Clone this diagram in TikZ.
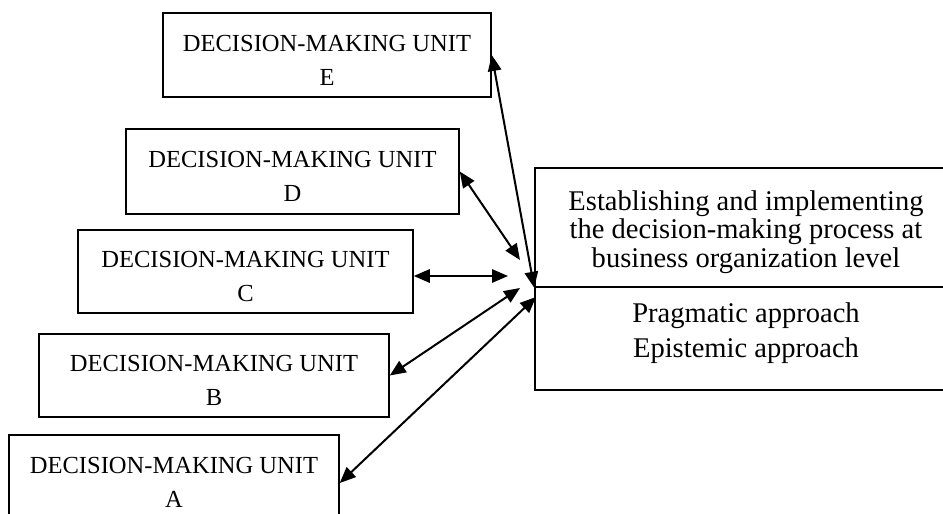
\documentclass[tikz,border=0pt]{standalone}
\usepackage{fontspec}
\setmainfont{Liberation Serif}
\usetikzlibrary{arrows.meta}
\newcommand*{\unitfont}{\fontsize{18.4}{25.5}\selectfont}
\newcommand*{\procfont}{\fontsize{21.4}{21.4}\selectfont}
\newcommand*{\apprfont}{\fontsize{21.4}{26.2}\selectfont}
\newcommand*{\unitlabel}[1]{\rule{0pt}{20.2pt}DECISION-MAKING UNIT\\#1}
\tikzset{
  unitbox/.style={draw=black, line width=1.15pt, align=center, inner sep=0pt, font=\unitfont},
  procbox/.style={draw=black, line width=1.15pt, align=center, inner sep=0pt, minimum width=316.5pt},
  link/.style={line width=1.5pt, {Triangle[length=12pt,width=10pt]}-{Triangle[length=12pt,width=10pt]}}
}
\begin{document}
\begin{tikzpicture}[x=0.75pt, y=-0.75pt]
    \useasboundingbox (0,0) rectangle (943,514);
    % decision-making units
    \node [unitbox, minimum width=246pt, minimum height=63pt] (E) at (327,55) {\unitlabel{E}};
    \node [unitbox, minimum width=249.75pt, minimum height=63.75pt] (D) at (292.5,171.5) {\unitlabel{D}};
    \node [unitbox, minimum width=251.25pt, minimum height=62.25pt] (C) at (245.5,271.5) {\unitlabel{C}};
    \node [unitbox, minimum width=262.5pt, minimum height=62.25pt] (B) at (214,375.5) {\unitlabel{B}};
    \node [unitbox, minimum width=247.5pt, minimum height=63pt] (A) at (174,477) {\unitlabel{A}};
    % process at organization level
    \node [procbox, minimum height=89.25pt, font=\procfont] (proc) at (746,227.5)
        {\rule{0pt}{21.4pt}Establishing and implementing\\the decision-making process at\\business organization level};
    \node [procbox, minimum height=77.25pt, font=\apprfont] (appr) at (746,338.5)
        {Pragmatic approach\\Epistemic approach\rule[-13.3pt]{0pt}{13.3pt}};
    % ends near the process box
    \coordinate (hubD) at (520,260);
    \coordinate (hubC) at (508,276);
    \coordinate (hubB) at (520,288);
    \coordinate (hubA) at (536,297);
    \draw [link] (E.east) -- (proc.south west);
    \draw [link] (D.east) -- (hubD);
    \draw [link] (C.east |- hubC) -- (hubC);
    \draw [link] (B.east) -- (hubB);
    \draw [link] ([yshift=-4.5pt]A.east) -- (hubA);
\end{tikzpicture}
\end{document}
